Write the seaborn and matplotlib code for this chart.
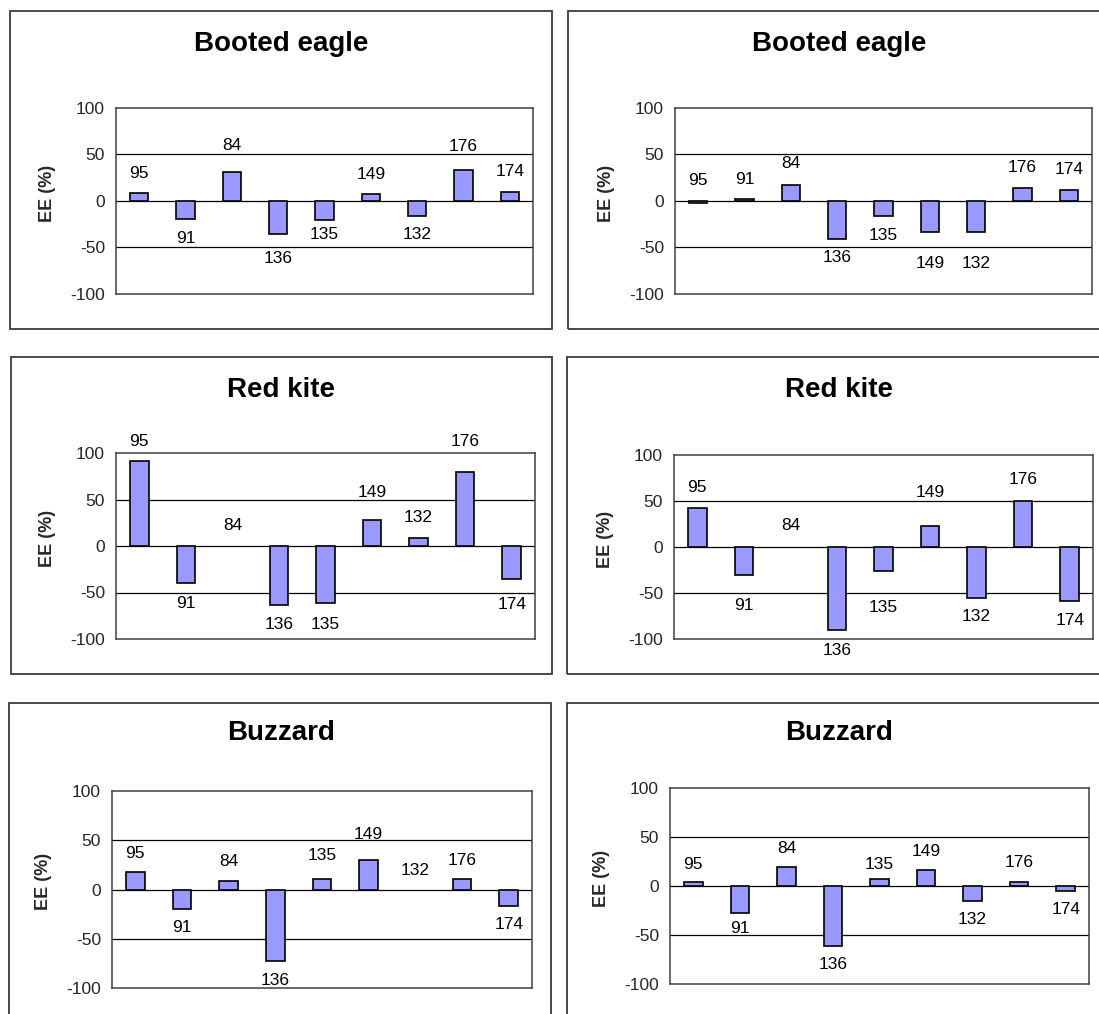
import matplotlib
matplotlib.use("Agg")
import matplotlib.pyplot as plt
from matplotlib.patches import Rectangle
import seaborn as sns
import numpy as np
import pandas as pd

sns.set_style("white")
plt.rcParams['font.family'] = ['Liberation Sans', 'DejaVu Sans']

# bird ids (category order on every panel)
birds = ['95', '91', '84', '136', '135', '149', '132', '176', '174']

titles = ['Booted eagle', 'Booted eagle', 'Red kite', 'Red kite', 'Buzzard', 'Buzzard']

# EE (%) per bird, one list per panel (left col, right col)
ee_eagle_l = [8.5, -19, 31, -35, -20, 7, -16, 33, 10]
ee_eagle_r = [-2, 2, 17, -41, -16, -33, -33, 14, 12]
ee_kite_l = [91, -40, np.nan, -63, -61, 28, 8.6, 80, -35]
ee_kite_r = [42, -30, np.nan, -90.6, -26.5, 23, -55, 50, -59]
ee_buzz_l = [18, -20, 9, -73, 10.5, 30, np.nan, 10.5, -17]
ee_buzz_r = [4.5, -27.5, 19, -61, 7.5, 16.3, -15.6, 4.5, -5]

# where the id labels sit (EE units)
lab_eagle_l = [30, -40, 60, -62, -36, 29, -36, 59, 32]
lab_eagle_r = [22, 23, 40, -61, -37, -67, -67, 36, 34]
lab_kite_l = [112, -62, 22, -84, -84, 57, 31, 112, -63]
lab_kite_r = [65, -64, 23, -112, -66, 59, -76, 73, -80]
lab_buzz_l = [36.5, -39, 28, -92, 35, 56, 19, 29, -36]
lab_buzz_r = [22.4, -43, 38, -80, 21.8, 35, -34, 23.5, -23.5]

values = [ee_eagle_l, ee_eagle_r, ee_kite_l, ee_kite_r, ee_buzz_l, ee_buzz_r]
label_ys = [lab_eagle_l, lab_eagle_r, lab_kite_l, lab_kite_r, lab_buzz_l, lab_buzz_r]

W, H = 1099, 1014
fig = plt.figure(figsize=(W / 100, H / 100), dpi=100)

# pixel boxes: left, top, right, bottom
axes_px = [(116, 108, 533, 294), (675, 108, 1092, 294),
           (116, 453, 535, 639), (674, 455, 1093, 639),
           (112, 791, 532, 988), (670, 788, 1089, 984)]
frames_px = [(10, 11, 552, 329), (568, 11, 1112, 329),
             (11, 357, 552, 674), (567, 357, 1112, 674),
             (9, 703, 551, 1022), (567, 703, 1112, 1022)]
title_px = [(281, 44), (839, 44), (281, 390), (839, 390), (281, 733), (839, 733)]

for k in range(6):
    fl, ft, fr, fb = frames_px[k]
    fig.add_artist(Rectangle((fl / W, 1 - fb / H), (fr - fl) / W, (fb - ft) / H,
                             transform=fig.transFigure, fill=False,
                             edgecolor='#3a3a3a', linewidth=1.3))
    tx, ty = title_px[k]
    fig.text(tx / W, 1 - ty / H, titles[k], ha='center', va='center',
             fontsize=20, fontweight='bold', color='black')

    l, t, r, b = axes_px[k]
    ax = fig.add_axes([l / W, 1 - b / H, (r - l) / W, (b - t) / H])
    df = pd.DataFrame({'bird': birds, 'ee': values[k]})
    ax.axhline(50, color='black', lw=0.9, zorder=0.5)
    ax.axhline(-50, color='black', lw=0.9, zorder=0.5)
    ax.axhline(0, color='black', lw=0.9, zorder=0.5)
    sns.barplot(data=df, x='bird', y='ee', order=birds, color='#9999FF',
                saturation=1, width=0.4, edgecolor='black', linewidth=1.2,
                errorbar=None, ax=ax)
    for i, name in enumerate(birds):
        ax.text(i, label_ys[k][i], name, ha='center', va='center',
                fontsize=12.5, color='black', clip_on=False)
    ax.set_xlim(-0.5, 8.5)
    ax.set_ylim(-100, 100)
    ax.set_yticks([-100, -50, 0, 50, 100])
    ax.set_yticklabels(['-100', '-50', '0', '50', '100'], fontsize=12.5)
    ax.tick_params(axis='y', length=0, pad=8)
    ax.set_xticks([])
    ax.set_xlabel('')
    ax.set_ylabel('')
    ax.text(-69 / (r - l), 0.54, 'EE (%)', rotation=90, ha='center', va='center',
            fontsize=13, fontweight='bold', transform=ax.transAxes)
    for s in ax.spines.values():
        s.set_visible(True)
        s.set_color('#404040')
        s.set_linewidth(1.1)

fig.savefig('out.png', dpi=100)
